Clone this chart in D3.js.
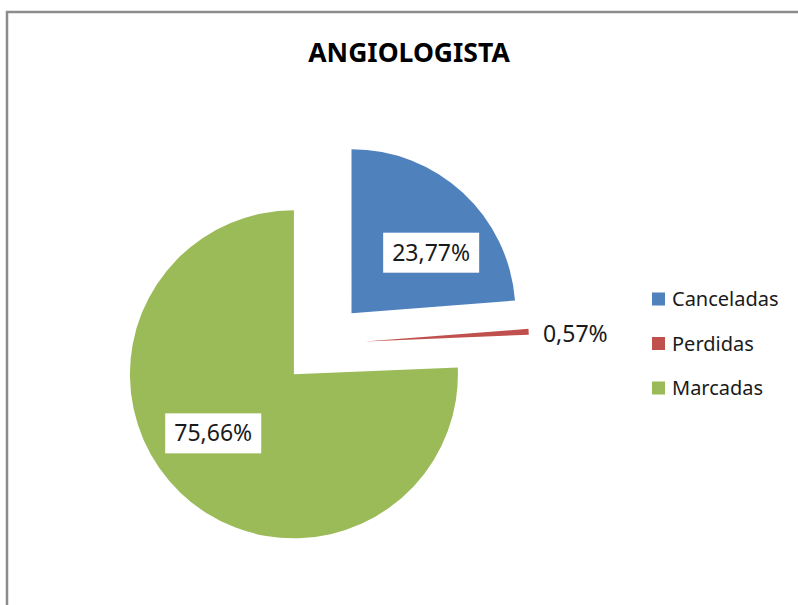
<!DOCTYPE html>
<html>
<head>
<meta charset="utf-8">
<script src="https://cdn.jsdelivr.net/npm/d3@7"></script>
<style>
  body { margin: 0; background: #fff; }
  text { font-family: "Noto Sans", "Open Sans", sans-serif; }
</style>
</head>
<body>
<div id="chart"></div>
<script>
// data
const categories = ['Canceladas', 'Perdidas', 'Marcadas'];
const values = [23.77, 0.57, 75.66];
const labels = ['23,77%', '0,57%', '75,66%'];
const colors = ['#4F81BD', '#C0504D', '#9BBB59'];

const width = 798;
const height = 605;

const svg = d3.select('#chart')
  .append('svg')
  .attr('width', width)
  .attr('height', height);

// chart area frame (only top and left edges visible)
svg.append('path')
  .attr('d', `M7,${height} L7,12 L${width},12`)
  .attr('fill', 'none')
  .attr('stroke', '#8c8c8c')
  .attr('stroke-width', 2.5);

svg.append('text')
  .attr('x', 409)
  .attr('y', 62)
  .attr('text-anchor', 'middle')
  .style('font-size', '26.5px')
  .style('font-weight', 'bold')
  .text('ANGIOLOGISTA');

const cx = 323;
const cy = 344;
const radius = 164;
const explode = 42;

const pie = d3.pie().sort(null).value(d => d);
const arcs = pie(values);
const arc = d3.arc().innerRadius(0).outerRadius(radius);

const g = svg.append('g').attr('transform', `translate(${cx},${cy})`);

const slices = g.selectAll('.slice')
  .data(arcs)
  .enter().append('g')
    .attr('class', 'slice')
    .attr('transform', d => {
      const a = (d.startAngle + d.endAngle) / 2;
      return `translate(${explode * Math.sin(a)},${-explode * Math.cos(a)})`;
    });

slices.append('path')
  .attr('d', arc)
  .attr('fill', (d, i) => colors[i]);

// data labels
const labelRadius = 100;
const labelShift = 10 * Math.PI / 180;
slices.each(function (d, i) {
  const sel = d3.select(this);
  const a = (d.startAngle + d.endAngle) / 2;
  if (d.endAngle - d.startAngle < 0.1) {
    // small slice: label outside, no box
    sel.append('text')
      .attr('x', radius + 14)
      .attr('y', -8)
      .attr('dy', '0.35em')
      .style('font-size', '23px')
      .attr('fill', '#1a1a1a')
      .text(labels[i]);
    return;
  }
  const x = labelRadius * Math.sin(a + labelShift);
  const y = -labelRadius * Math.cos(a + labelShift);
  sel.append('rect')
    .attr('x', x - 48)
    .attr('y', y - 20)
    .attr('width', 96)
    .attr('height', 40)
    .attr('fill', '#fff');
  sel.append('text')
    .attr('x', x)
    .attr('y', y)
    .attr('dy', '0.35em')
    .attr('text-anchor', 'middle')
    .style('font-size', '23px')
    .attr('fill', '#1a1a1a')
    .text(labels[i]);
});

// legend
const legend = svg.append('g').attr('transform', 'translate(652,299)');
const item = legend.selectAll('.item')
  .data(categories)
  .enter().append('g')
    .attr('class', 'item')
    .attr('transform', (d, i) => `translate(0,${i * 44.5})`);

item.append('rect')
  .attr('x', 0)
  .attr('y', -6.5)
  .attr('width', 13)
  .attr('height', 13)
  .attr('fill', (d, i) => colors[i]);

item.append('text')
  .attr('x', 20)
  .attr('dy', '0.35em')
  .style('font-size', '20px')
  .attr('fill', '#1a1a1a')
  .text(d => d);
</script>
</body>
</html>
